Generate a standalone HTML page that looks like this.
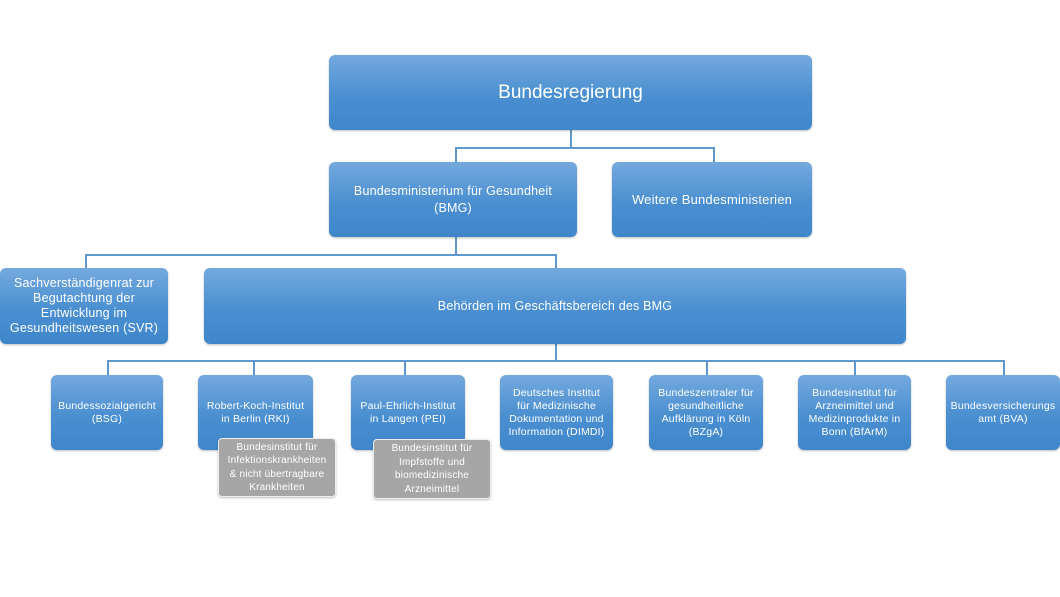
<!DOCTYPE html>
<html><head><meta charset="utf-8"><style>
body{margin:0;width:1060px;height:597px;background:#fff;position:relative;overflow:hidden;font-family:"Liberation Sans",sans-serif;}
.b{position:absolute;box-sizing:border-box;border-radius:6px;background:linear-gradient(#74a9de,#4a8fd0 55%,#3f86cb);color:#fff;display:flex;align-items:center;justify-content:center;text-align:center;font-size:10.5px;line-height:13px;letter-spacing:0.2px;box-shadow:0 1px 2px rgba(0,0,0,.25);}
.g{background:#a6a6a6;border:1px solid #eee;font-size:10px;line-height:13.5px;border-radius:4px;}
.l{position:absolute;background:#5f98cf;}
</style></head><body>
<div class="l" style="left:570px;top:130px;width:1.5px;height:18px"></div>
<div class="l" style="left:455px;top:147px;width:259px;height:1.5px"></div>
<div class="l" style="left:455px;top:147px;width:1.5px;height:16px"></div>
<div class="l" style="left:713px;top:147px;width:1.5px;height:16px"></div>
<div class="l" style="left:455px;top:237px;width:1.5px;height:18px"></div>
<div class="l" style="left:85px;top:254px;width:471px;height:1.5px"></div>
<div class="l" style="left:85px;top:254px;width:1.5px;height:15px"></div>
<div class="l" style="left:555px;top:254px;width:1.5px;height:15px"></div>
<div class="l" style="left:555px;top:344px;width:1.5px;height:17px"></div>
<div class="l" style="left:107px;top:360px;width:897px;height:1.5px"></div>
<div class="l" style="left:107px;top:360px;width:1.5px;height:16px"></div>
<div class="l" style="left:253px;top:360px;width:1.5px;height:16px"></div>
<div class="l" style="left:404px;top:360px;width:1.5px;height:16px"></div>
<div class="l" style="left:706px;top:360px;width:1.5px;height:16px"></div>
<div class="l" style="left:854px;top:360px;width:1.5px;height:16px"></div>
<div class="l" style="left:1003px;top:360px;width:1.5px;height:16px"></div>

<div class="b" style="left:329px;top:55px;width:483px;height:75px;font-size:19px;letter-spacing:0">Bundesregierung</div>
<div class="b" style="left:329px;top:162px;width:248px;height:75px;font-size:12.5px;line-height:17px">Bundesministerium für Gesundheit<br>(BMG)</div>
<div class="b" style="left:612px;top:162px;width:200px;height:75px;font-size:13px">Weitere Bundesministerien</div>
<div class="b" style="left:0px;top:268px;width:168px;height:76px;font-size:12.5px;line-height:15px;padding:0 4px">Sachverständigenrat zur Begutachtung der Entwicklung im Gesundheitswesen (SVR)</div>
<div class="b" style="left:204px;top:268px;width:702px;height:76px;font-size:12.5px">Behörden im Geschäftsbereich des BMG</div>
<div class="b" style="left:51px;top:375px;width:112px;height:75px">Bundessozialgericht<br>(BSG)</div>
<div class="b" style="left:198px;top:375px;width:115px;height:75px">Robert-Koch-Institut<br>in Berlin (RKI)</div>
<div class="b" style="left:351px;top:375px;width:114px;height:75px">Paul-Ehrlich-Institut<br>in Langen (PEI)</div>
<div class="b" style="left:500px;top:375px;width:113px;height:75px">Deutsches Institut<br>für Medizinische<br>Dokumentation und<br>Information (DIMDI)</div>
<div class="b" style="left:649px;top:375px;width:114px;height:75px">Bundeszentraler für<br>gesundheitliche<br>Aufklärung in Köln<br>(BZgA)</div>
<div class="b" style="left:798px;top:375px;width:113px;height:75px">Bundesinstitut für<br>Arzneimittel und<br>Medizinprodukte in<br>Bonn (BfArM)</div>
<div class="b" style="left:946px;top:375px;width:114px;height:75px">Bundesversicherungs<br>amt (BVA)</div>
<div class="b g" style="left:218px;top:438px;width:118px;height:59px">Bundesinstitut für<br>Infektionskrankheiten<br>&amp; nicht übertragbare<br>Krankheiten</div>
<div class="b g" style="left:373px;top:439px;width:118px;height:60px">Bundesinstitut für<br>Impfstoffe und<br>biomedizinische<br>Arzneimittel</div>
</body></html>
